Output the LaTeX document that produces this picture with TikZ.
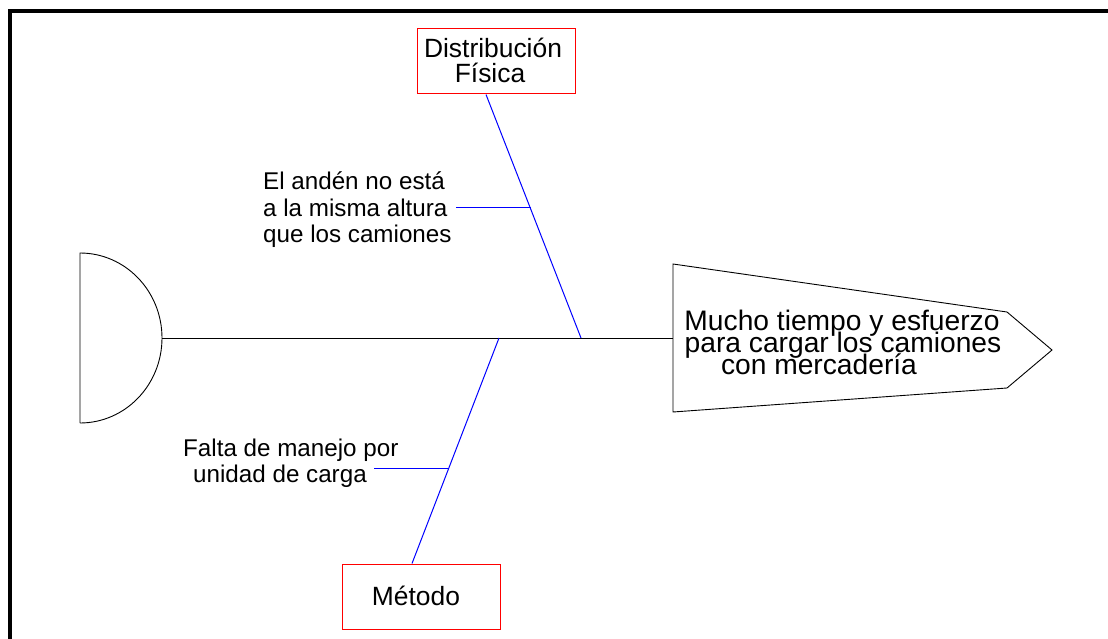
\documentclass[tikz,border=0pt]{standalone}
\usepackage{fontspec}
\setmainfont{Liberation Sans}
\begin{document}
\begin{tikzpicture}[x=1pt,y=-1pt,
  frame/.style={line width=4pt,black},
  rib/.style={blue,line width=1pt},
  catbox/.style={draw=red,line width=1pt},
  outline/.style={black,line width=0.9pt},
  lbl/.style={inner sep=0pt,font=\fontsize{24.2}{26}\selectfont},
  headtxt/.style={inner sep=0pt,anchor=base,font=\fontsize{28.2}{22}\selectfont},
  cattxt/.style={inner sep=0pt,anchor=base,font=\fontsize{26.4}{25}\selectfont}]
\useasboundingbox (0,0) rectangle (1108,639);
\fill[white] (0,0) rectangle (1108,639);
% frame
\draw[frame] (9.5,650) -- (9.5,11) -- (1120,11);
% tail (half ellipse)
\coordinate (tailtop) at (80,253);
\coordinate (tailbot) at (80,423);
\coordinate (tailtip) at (162,338);
\draw[outline] (tailbot) -- (tailtop) arc[start angle=-90,end angle=90,x radius=82,y radius=85];
% head
\coordinate (h1) at (673,264);
\coordinate (h2) at (1007,312);
\coordinate (h3) at (1052,350);
\coordinate (h4) at (1007,388);
\coordinate (h5) at (673,412);
\coordinate (headleft) at (673,338);
\draw[outline] (h1) -- (h2) -- (h3) -- (h4) -- (h5) -- cycle;
% spine
\draw[outline] (tailtip) -- (headleft);
% head text
\node[headtxt] (t1) at (842,330) {Mucho tiempo y esfuerzo};
\node[headtxt] (t2) at (843,352) {para cargar los camiones};
\node[headtxt] (t3) at (819,374) {con mercadería};
% category boxes
\node[catbox,minimum width=158pt,minimum height=65pt,inner sep=0pt] (dist) at (496,61.5) {};
\node[cattxt] (dist1) at (493,58) {Distribución};
\node[cattxt] (dist2) at (490,83) {Física};
\node[catbox,minimum width=158pt,minimum height=65pt,inner sep=0pt] (met) at (421,596.5) {};
\node[cattxt] (met1) at (416,605) {Método};
% ribs
\coordinate (s1) at (581,338);
\coordinate (s2) at (499,338);
\draw[rib] (dist.south -| 486,0) -- (s1);
\draw[rib] (s2) -- (met.north -| 412,0);
% sub-causes
\coordinate (b1) at (530.5,208);
\coordinate (e1) at (456,208);
\draw[rib] (e1) -- (b1);
\node[lbl,anchor=base west,align=left] (c1) at (263,242) {El andén no está\\a la misma altura\\que los camiones};
\coordinate (b2) at (448.5,468);
\coordinate (e2) at (374,468);
\draw[rib] (e2) -- (b2);
\node[lbl,anchor=base west,align=left] (c2) at (183,482) {Falta de manejo por\\\hspace*{10pt}unidad de carga};
\end{tikzpicture}
\end{document}
